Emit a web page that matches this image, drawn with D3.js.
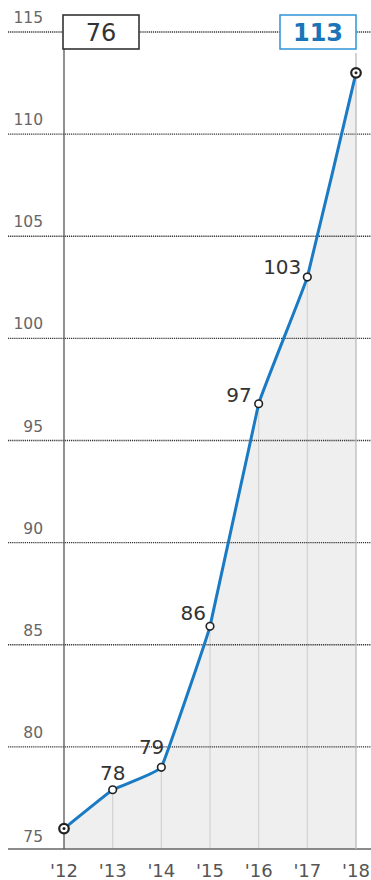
<!DOCTYPE html>
<html>
<head>
<meta charset="utf-8">
<script src="https://cdn.jsdelivr.net/npm/d3@7"></script>
<style>
  body { margin: 0; background: #fff; }
  svg { display: block; font-family: "DejaVu Sans", sans-serif; }
</style>
</head>
<body>
<div id="chart"></div>
<script>
// data
var years = ["'12", "'13", "'14", "'15", "'16", "'17", "'18"];
var values = [76, 77.9, 79, 85.9, 96.8, 103, 113];
var yTicks = [75, 80, 85, 90, 95, 100, 105, 110, 115];

var width = 371, height = 880;

var svg = d3.select("#chart").append("svg")
  .attr("width", width)
  .attr("height", height);

var x = d3.scalePoint().domain(years).range([64, 356]);
var y = d3.scaleLinear().domain([75, 115]).range([849, 32]);

var data = years.map(function(d, i) { return {year: d, value: values[i]}; });
var first = data[0], last = data[data.length - 1];

var curve = d3.curveCardinal.tension(0.8);

// area under the line
var area = d3.area()
  .x(function(d) { return x(d.year); })
  .y0(y(75))
  .y1(function(d) { return y(d.value); })
  .curve(curve);

svg.append("path")
  .datum(data)
  .attr("d", area)
  .style("fill", "#efefef");

// light vertical lines inside the area
svg.selectAll(".vline")
  .data(data.slice(1, -1))
  .enter().append("line")
  .attr("class", "vline")
  .attr("x1", function(d) { return x(d.year); })
  .attr("x2", function(d) { return x(d.year); })
  .attr("y1", function(d) { return y(d.value); })
  .attr("y2", y(75))
  .style("stroke", "#d2d2d2")
  .style("stroke-width", 1.2);

// dotted gridlines
svg.selectAll(".grid")
  .data(yTicks.slice(1))
  .enter().append("line")
  .attr("class", "grid")
  .attr("x1", 8)
  .attr("x2", width)
  .attr("y1", function(d) { return y(d); })
  .attr("y2", function(d) { return y(d); })
  .style("stroke", "#333")
  .style("stroke-width", 1.4)
  .style("stroke-dasharray", "1.2,0.9");

// baseline
svg.append("line")
  .attr("x1", 8).attr("x2", width)
  .attr("y1", y(75)).attr("y2", y(75))
  .style("stroke", "#666")
  .style("stroke-width", 1.5);

// y tick labels
svg.selectAll(".ytick")
  .data(yTicks)
  .enter().append("text")
  .attr("class", "ytick")
  .attr("x", 43)
  .attr("y", function(d) { return y(d) - (d === 75 ? 7 : 9); })
  .style("text-anchor", "end")
  .style("font-size", "15.5px")
  .style("fill", "#666")
  .text(function(d) { return d; });

// x labels
svg.selectAll(".xtick")
  .data(years)
  .enter().append("text")
  .attr("class", "xtick")
  .attr("x", function(d) { return x(d); })
  .attr("y", 877)
  .style("text-anchor", "middle")
  .style("font-size", "18px")
  .style("fill", "#555")
  .text(function(d) { return d; });

// start and end markers
svg.append("line")
  .attr("x1", x(first.year)).attr("x2", x(first.year))
  .attr("y1", 49).attr("y2", y(75))
  .style("stroke", "#555")
  .style("stroke-width", 1.3);

svg.append("line")
  .attr("x1", x(last.year)).attr("x2", x(last.year))
  .attr("y1", 53).attr("y2", y(75))
  .style("stroke", "#bbb")
  .style("stroke-width", 1.3);

// line
var line = d3.line()
  .x(function(d) { return x(d.year); })
  .y(function(d) { return y(d.value); })
  .curve(curve);

svg.append("path")
  .datum(data)
  .attr("d", line)
  .style("fill", "none")
  .style("stroke", "#1a7bc4")
  .style("stroke-width", 3);

// points
svg.selectAll(".dot")
  .data(data)
  .enter().append("circle")
  .attr("class", "dot")
  .attr("cx", function(d) { return x(d.year); })
  .attr("cy", function(d) { return y(d.value); })
  .attr("r", function(d, i) { return (i === 0 || i === data.length - 1) ? 4.8 : 3.8; })
  .style("fill", "#fff")
  .style("stroke", "#222")
  .style("stroke-width", function(d, i) { return (i === 0 || i === data.length - 1) ? 2.2 : 1.6; });

svg.selectAll(".dotc")
  .data([first, last])
  .enter().append("circle")
  .attr("cx", function(d) { return x(d.year); })
  .attr("cy", function(d) { return y(d.value); })
  .attr("r", 1.5)
  .style("fill", "#222");

// value labels: dx, dy relative to point, anchor
var labelPos = [null,
  {dx: 0, dy: -10, anchor: "middle"},
  {dx: 3, dy: -13, anchor: "end"},
  {dx: -4, dy: -6, anchor: "end"},
  {dx: -7, dy: -2, anchor: "end"},
  {dx: -6, dy: -3, anchor: "end"},
  null];

svg.selectAll(".vlabel")
  .data(data.filter(function(d, i) { return labelPos[i]; }))
  .enter().append("text")
  .attr("class", "vlabel")
  .attr("x", function(d) { return x(d.year) + labelPos[years.indexOf(d.year)].dx; })
  .attr("y", function(d) { return y(d.value) + labelPos[years.indexOf(d.year)].dy; })
  .style("text-anchor", function(d) { return labelPos[years.indexOf(d.year)].anchor; })
  .style("font-size", "20px")
  .style("fill", "#333")
  .text(function(d) { return Math.round(d.value); });

// boxes on top
var boxes = [
  {d: first, stroke: "#333", fill: "#333", weight: "normal"},
  {d: last, stroke: "#3a9ad9", fill: "#1a74b8", weight: "bold"}
];
var bw = 76, bh = 34;
var bg = svg.selectAll(".box")
  .data(boxes)
  .enter().append("g")
  .attr("class", "box");

bg.append("rect")
  .attr("x", function(b, i) { return i === 0 ? x(b.d.year) - 1 : x(b.d.year) - bw; })
  .attr("y", 15)
  .attr("width", bw)
  .attr("height", bh)
  .style("fill", "#fff")
  .style("stroke", function(b) { return b.stroke; })
  .style("stroke-width", 1.6);

bg.append("text")
  .attr("x", function(b, i) { return i === 0 ? x(b.d.year) - 1 + bw / 2 : x(b.d.year) - bw / 2; })
  .attr("y", 41)
  .style("text-anchor", "middle")
  .style("font-size", "24px")
  .style("font-weight", function(b) { return b.weight; })
  .style("fill", function(b) { return b.fill; })
  .text(function(b) { return Math.round(b.d.value); });
</script>
</body>
</html>
